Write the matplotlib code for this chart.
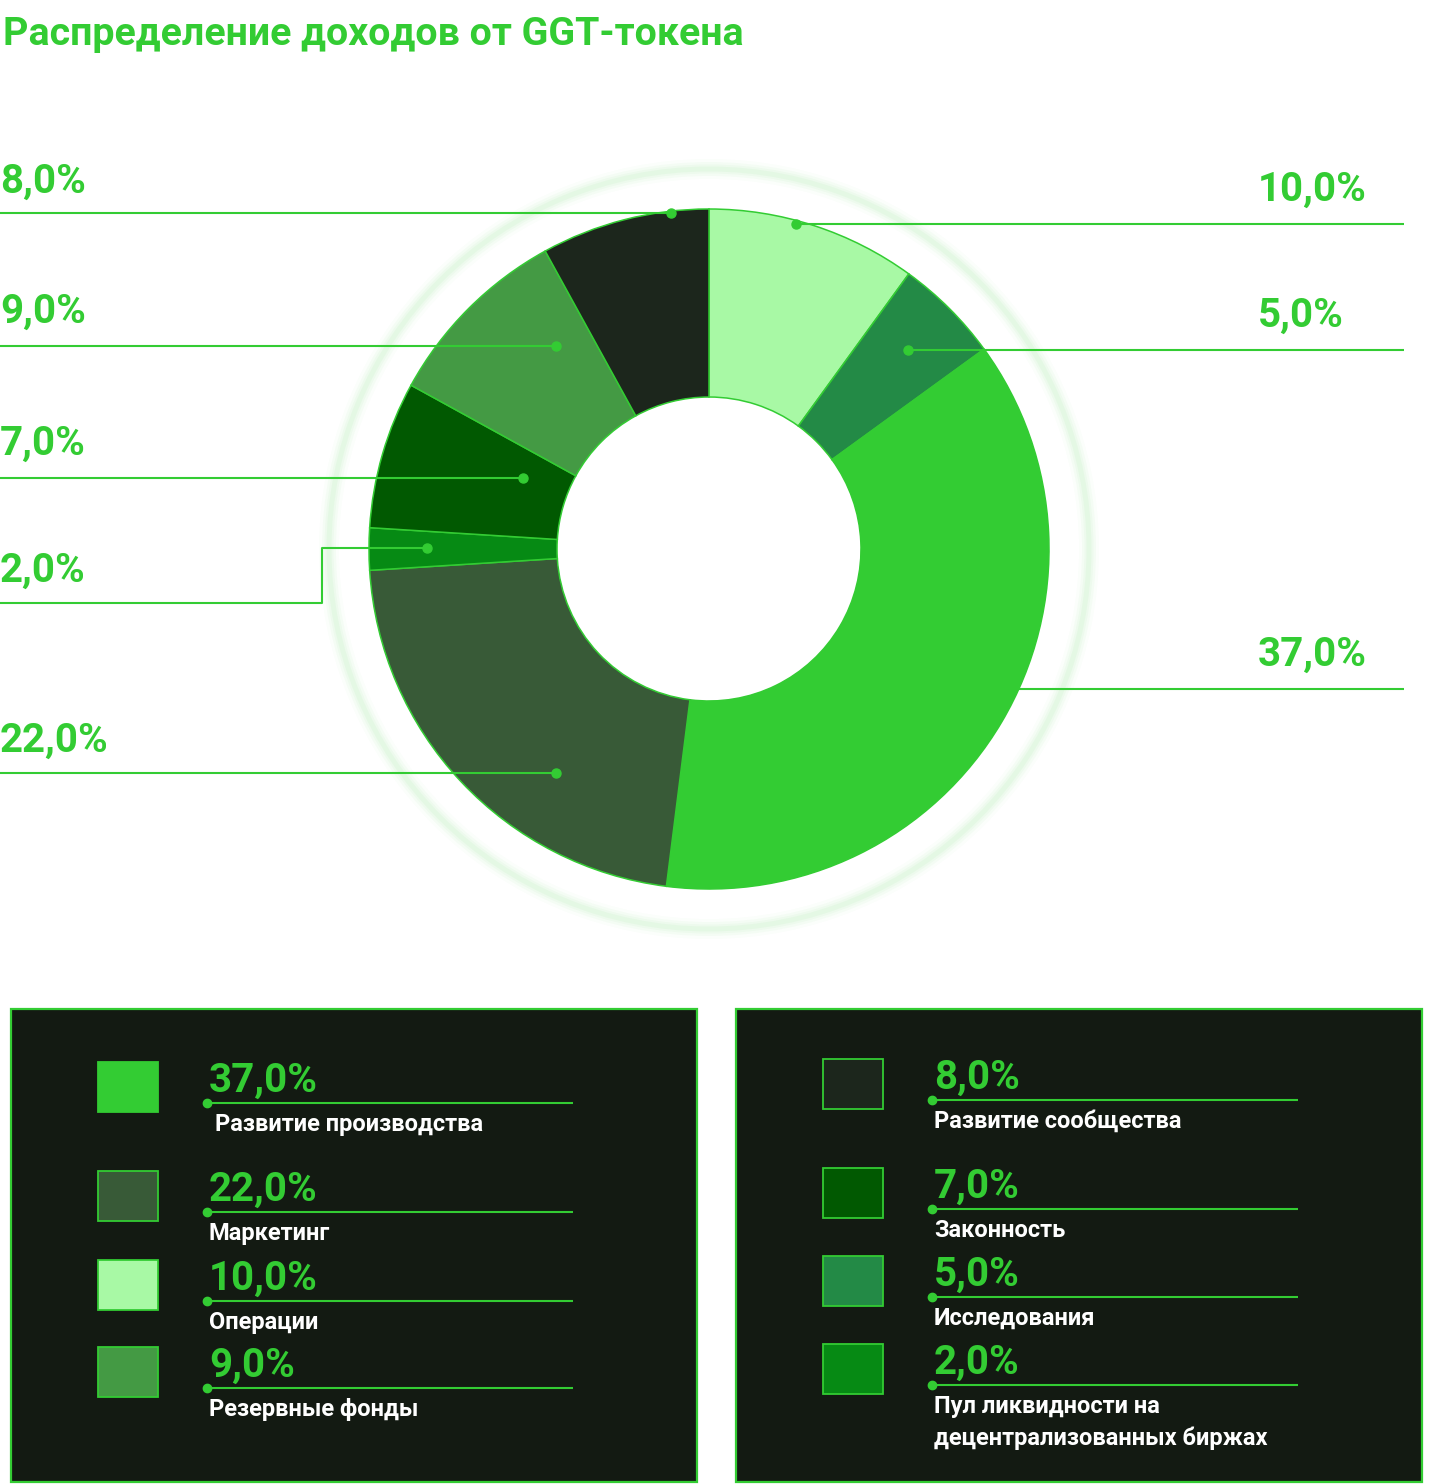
import numpy as np
import matplotlib
matplotlib.use("Agg")
import matplotlib.pyplot as plt
from matplotlib.patches import Rectangle, Circle

plt.rcParams['font.family'] = ['Roboto', 'DejaVu Sans']

W, H = 1434, 1484
GREEN = '#33CC33'

title = 'Распределение доходов от GGT-токена'

# порядок секторов по часовой стрелке от 12 часов
categories = ['Операции', 'Исследования', 'Развитие производства', 'Маркетинг',
              'Пул ликвидности на\nдецентрализованных биржах', 'Законность',
              'Резервные фонды', 'Развитие сообщества']
values = [10, 5, 37, 22, 2, 7, 9, 8]
colors = ['#A8F9A5', '#238A46', '#33CC33', '#385A37',
          '#068A14', '#015901', '#449A44', '#1C261C']

# порядок в легенде (две колонки)
legend_left = ['Развитие производства', 'Маркетинг', 'Операции', 'Резервные фонды']
legend_right = ['Развитие сообщества', 'Законность', 'Исследования',
                'Пул ликвидности на\nдецентрализованных биржах']


def pct(v):
    return f'{v:.1f}'.replace('.', ',') + '%'


fig = plt.figure(figsize=(W / 100, H / 100), dpi=100)
ax = fig.add_axes([0, 0, 1, 1])

cx, cy, R = 709, 549, 340

# мягкое свечение вокруг кольца
for lw, a in [(20, 0.02), (14, 0.03), (9, 0.035), (5, 0.045)]:
    ax.add_patch(Circle((cx, cy), 380, fill=False, ec=GREEN, lw=lw / 1.389, alpha=a, zorder=0))

# ось y перевёрнута, поэтому counterclock=True даёт обход по часовой на экране
ax.pie(values, colors=colors, startangle=-90, counterclock=True,
       center=(cx, cy), radius=R,
       wedgeprops=dict(width=R * 0.553, edgecolor=GREEN, linewidth=1.1))

ax.set_xlim(0, W)
ax.set_ylim(H, 0)
ax.set_aspect('equal')
ax.axis('off')

ax.text(3, 45, title, fontsize=28.4, fontweight='bold', color=GREEN, va='baseline')

# выноски: (категория, сторона, y текста, путь линии)
callouts = [
    ('Развитие сообщества', 'L', 193, [(0, 213), (671, 213)]),
    ('Резервные фонды', 'L', 323, [(0, 346), (556, 346)]),
    ('Законность', 'L', 455, [(0, 478), (523, 478)]),
    ('Пул ликвидности на\nдецентрализованных биржах', 'L', 582,
     [(0, 603), (322, 603), (322, 548), (427, 548)]),
    ('Маркетинг', 'L', 752, [(0, 773), (556, 773)]),
    ('Операции', 'R', 201, [(1404, 224), (796, 224)]),
    ('Исследования', 'R', 327, [(1404, 350), (908, 350)]),
    ('Развитие производства', 'R', 666, [(1404, 689), (906, 689)]),
]
for name, side, ty, path in callouts:
    v = values[categories.index(name)]
    tx = 0 if side == 'L' else 1258
    ax.text(tx, ty, pct(v), fontsize=29, fontweight='bold', color=GREEN, va='baseline')
    xs, ys = zip(*path)
    ax.plot(xs, ys, color=GREEN, lw=1.5, zorder=5, solid_capstyle='butt')
    ax.plot(xs[-1], ys[-1], 'o', color=GREEN, ms=6.5, zorder=6)

# панели легенды
box_bg = '#131A12'
for x0 in (11, 736):
    ax.add_patch(Rectangle((x0, 1009), 686, 473, fc=box_bg, ec=GREEN, lw=1.6, zorder=1))

rows_left = [1092, 1201, 1290, 1377]
rows_right = [1089, 1198, 1286, 1374]


def draw_column(names, rows, sq_x, tx, line_end):
    for i, (name, base) in enumerate(zip(names, rows)):
        k = categories.index(name)
        ax.add_patch(Rectangle((sq_x, base - 30), 60, 50, fc=colors[k], ec=GREEN,
                               lw=1.3, zorder=2))
        ax.text(tx, base, pct(values[k]), fontsize=29, fontweight='bold',
                color=GREEN, va='baseline', zorder=3)
        ly = base + 11
        ax.plot([tx - 2, line_end], [ly, ly], color=GREEN, lw=1.5, zorder=3,
                solid_capstyle='butt')
        ax.plot(tx - 2, ly, 'o', color=GREEN, ms=6, zorder=4)
        lx = tx + 6 if (i == 0 and sq_x < 700) else tx
        for j, line in enumerate(name.split('\n')):
            ax.text(lx, ly + 28 + j * 32, line, fontsize=17, fontweight='bold',
                    color='white', va='baseline', zorder=3)


draw_column(legend_left, rows_left, 98, 209, 573)
draw_column(legend_right, rows_right, 823, 934, 1298)

fig.savefig('out.png', dpi=100, facecolor='white')
